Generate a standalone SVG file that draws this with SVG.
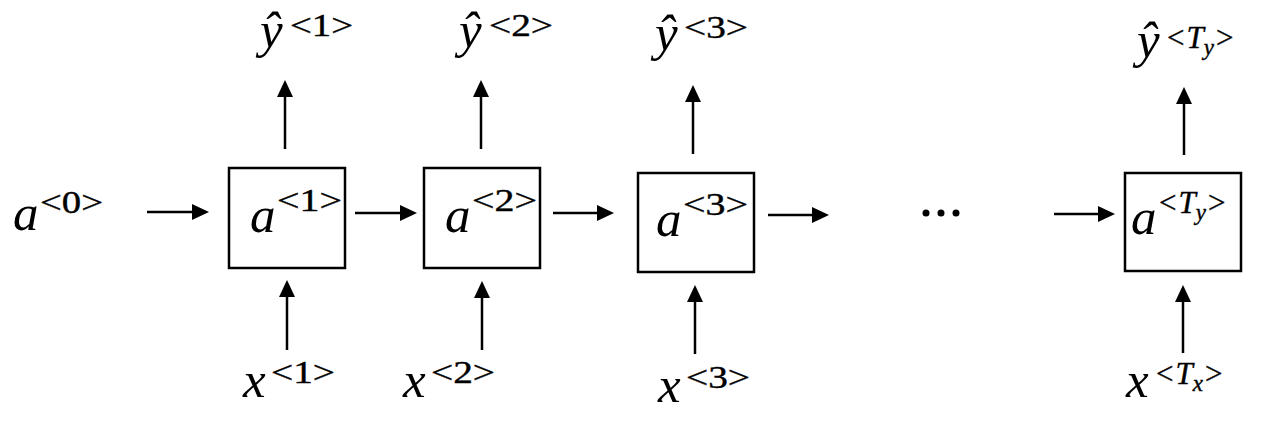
<svg xmlns="http://www.w3.org/2000/svg" width="1280" height="430" viewBox="0 0 1280 430">
<style>
.box{fill:#fff;stroke:#000;stroke-width:2.5}
.ar{stroke:#000;stroke-width:2.5;fill:none;marker-end:url(#ah)}
.m{font-family:"Liberation Serif","Times New Roman",serif;font-style:italic;font-size:51px;fill:#000}
.s{font-family:"Liberation Serif","Times New Roman",serif;font-size:31px;fill:#000;stroke:#000;stroke-width:0.4}
.i{font-style:italic}
.ss{font-style:italic;font-size:23px}
</style>
<defs>
<marker id="ah" markerUnits="userSpaceOnUse" markerWidth="18" markerHeight="18" refX="13" refY="8" orient="auto">
<path d="M0,0 L17,8 L0,16 z" fill="#000"/>
</marker>
</defs>
<rect width="1280" height="430" fill="#fff"/>
<g id="connectors">
<line class="ar" x1="147" y1="212" x2="205" y2="212"/>
<line class="ar" x1="355" y1="213" x2="413" y2="213"/>
<line class="ar" x1="553" y1="213" x2="610" y2="213"/>
<line class="ar" x1="768" y1="215" x2="825" y2="215"/>
<line class="ar" x1="1054" y1="214" x2="1111" y2="214"/>
<line class="ar" x1="285" y1="149" x2="285" y2="84"/>
<line class="ar" x1="481" y1="149" x2="481" y2="84"/>
<line class="ar" x1="693" y1="154" x2="693" y2="89"/>
<line class="ar" x1="1184" y1="155" x2="1184" y2="91"/>
<line class="ar" x1="287" y1="350" x2="287" y2="284"/>
<line class="ar" x1="482" y1="350" x2="482" y2="285"/>
<line class="ar" x1="695" y1="354" x2="695" y2="289"/>
<line class="ar" x1="1183" y1="353" x2="1183" y2="289"/>
</g>
<g id="a0">
<text class="m" x="13" y="230">a</text>
<text class="s" x="40" y="213" textLength="63" lengthAdjust="spacingAndGlyphs">&lt;0&gt;</text>
</g>
<g id="a1">
<rect class="box" x="229" y="168" width="116" height="100"/>
<text class="m" x="250" y="232">a</text>
<text class="s" x="277" y="211" textLength="65" lengthAdjust="spacingAndGlyphs">&lt;1&gt;</text>
</g>
<g id="a2">
<rect class="box" x="424" y="168" width="116" height="100"/>
<text class="m" x="445" y="232">a</text>
<text class="s" x="472" y="211" textLength="65" lengthAdjust="spacingAndGlyphs">&lt;2&gt;</text>
</g>
<g id="a3">
<rect class="box" x="638" y="173" width="116" height="99"/>
<text class="m" x="656" y="236">a</text>
<text class="s" x="683" y="215" textLength="65" lengthAdjust="spacingAndGlyphs">&lt;3&gt;</text>
</g>
<g id="ellipsis">
<circle cx="926" cy="213" r="3.5"/>
<circle cx="941" cy="213" r="3.5"/>
<circle cx="956" cy="213" r="3.5"/>
</g>
<g id="aTy">
<rect class="box" x="1125" y="173" width="116" height="98"/>
<text class="m" x="1131" y="234">a</text>
<text class="s" x="1159" y="213">&lt;<tspan class="i" dx="2">T</tspan><tspan class="ss" dy="7">y</tspan><tspan dy="-7" dx="2">&gt;</tspan></text>
</g>
<g id="y1">
<text class="m" x="260" y="47">ŷ</text>
<text class="s" x="290" y="36" textLength="63" lengthAdjust="spacingAndGlyphs">&lt;1&gt;</text>
</g>
<g id="y2">
<text class="m" x="459" y="47">ŷ</text>
<text class="s" x="489" y="36" textLength="64" lengthAdjust="spacingAndGlyphs">&lt;2&gt;</text>
</g>
<g id="y3">
<text class="m" x="655" y="50">ŷ</text>
<text class="s" x="684" y="38" textLength="64" lengthAdjust="spacingAndGlyphs">&lt;3&gt;</text>
</g>
<g id="yTy">
<text class="m" x="1137" y="57">ŷ</text>
<text class="s" x="1167" y="48">&lt;<tspan class="i" dx="2">T</tspan><tspan class="ss" dy="7">y</tspan><tspan dy="-7" dx="2">&gt;</tspan></text>
</g>
<g id="x1">
<text class="m" x="243" y="397">x</text>
<text class="s" x="271" y="383" textLength="64" lengthAdjust="spacingAndGlyphs">&lt;1&gt;</text>
</g>
<g id="x2">
<text class="m" x="403" y="397">x</text>
<text class="s" x="431" y="383" textLength="64" lengthAdjust="spacingAndGlyphs">&lt;2&gt;</text>
</g>
<g id="x3">
<text class="m" x="658" y="402">x</text>
<text class="s" x="686" y="388" textLength="64" lengthAdjust="spacingAndGlyphs">&lt;3&gt;</text>
</g>
<g id="xTx">
<text class="m" x="1126" y="397">x</text>
<text class="s" x="1156" y="384">&lt;<tspan class="i" dx="2">T</tspan><tspan class="ss" dy="7">x</tspan><tspan dy="-7" dx="2">&gt;</tspan></text>
</g>
</svg>
